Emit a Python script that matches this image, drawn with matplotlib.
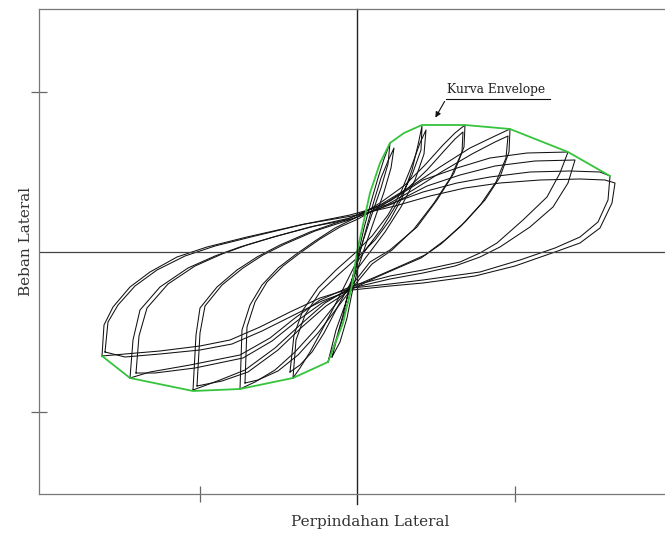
import matplotlib
matplotlib.use("Agg")
import matplotlib.pyplot as plt

# hysteresis cycles (displacement, load in arbitrary units)
# each list = reloading branch (neg peak -> pos peak) followed by unloading branch (pos peak -> neg peak)
c6a_x = [-25.5, -25.3, -24.4, -22.7, -20.7, -18.0, -15.0, -11.0, -5.7, -0.7, 3.3, 6.6, 10.0, 13.3, 17.3, 21.3, 24.3, 25.3,
         25.1, 24.1, 22.3, 19.8, 16.3, 12.3, 6.6, 3.3, -0.5, -3.7, -6.7, -9.7, -12.7, -15.7, -19.7, -23.2, -25.5]
c6a_y = [-10.4, -7.3, -5.5, -3.5, -2.0, -0.5, 0.5, 1.5, 2.7, 3.7, 4.8, 6.0, 6.9, 7.5, 8.0, 8.1, 8.0, 7.6,
         5.2, 3.0, 1.5, 0.4, -0.8, -2.0, -2.8, -3.2, -3.6, -4.6, -6.0, -7.5, -8.8, -9.4, -9.9, -10.2, -10.4]
c6b_x = [-25.2, -24.9, -23.9, -22.2, -20.0, -17.2, -14.2, -10.2, -5.2, -0.5, 3.8, 7.3, 10.8, 14.3, 18.3, 22.3, 24.8, 25.8,
         25.5, 24.3, 22.3, 19.8, 15.8, 11.8, 6.6, 3.3, -0.5, -3.5, -6.5, -9.5, -12.5, -15.7, -19.7, -23.2, -25.2]
c6b_y = [-10.0, -7.0, -5.3, -3.4, -1.8, -0.4, 0.6, 1.6, 2.8, 3.6, 4.6, 5.6, 6.4, 6.9, 7.2, 7.3, 7.2, 6.9,
         4.9, 2.4, 0.9, 0.0, -1.4, -2.4, -3.1, -3.4, -3.8, -4.9, -6.4, -7.9, -9.2, -9.8, -10.2, -10.5, -10.0]

c5a_x = [-22.7, -22.4, -21.7, -19.7, -16.9, -14.2, -11.7, -8.7, -4.7, -0.7, 3.3, 6.6, 10.0, 13.3, 17.0, 21.1,
         20.3, 19.0, 16.6, 14.0, 12.3, 10.3, 6.6, 3.3, -0.5, -3.7, -6.2, -8.7, -11.7, -16.7, -20.7, -22.7]
c5a_y = [-12.6, -8.8, -5.8, -3.5, -1.6, -0.4, 0.5, 1.4, 2.5, 3.4, 5.1, 7.2, 8.4, 9.4, 9.9, 10.0,
         7.9, 5.5, 3.2, 0.9, -0.1, -1.0, -1.8, -2.4, -3.4, -4.8, -6.6, -8.6, -10.3, -11.3, -12.0, -12.6]
c5b_x = [-22.1, -21.8, -21.0, -18.9, -16.2, -13.5, -11.0, -8.0, -4.2, -0.5, 3.5, 7.0, 10.3, 13.8, 17.8, 21.8,
         21.1, 19.6, 17.3, 14.3, 12.3, 9.8, 6.6, 3.3, -0.5, -3.5, -6.0, -8.5, -11.4, -16.2, -20.2, -22.1]
c5b_y = [-12.1, -8.4, -5.6, -3.2, -1.4, -0.2, 0.7, 1.6, 2.6, 3.3, 4.8, 6.6, 7.7, 8.6, 9.1, 9.2,
         6.9, 4.5, 2.5, 0.5, -0.5, -1.4, -2.1, -2.7, -3.6, -5.1, -6.9, -8.9, -10.6, -11.6, -12.1, -12.1]

c4a_x = [-16.4, -16.1, -15.7, -14.0, -12.0, -10.0, -7.7, -4.7, -0.7, 2.3, 5.3, 8.3, 11.3, 13.8, 15.3,
         15.2, 14.3, 12.8, 10.8, 8.8, 6.8, 4.8, 2.3, -0.5, -3.2, -5.7, -8.2, -11.2, -13.7, -16.4]
c4a_y = [-13.8, -8.3, -5.6, -3.5, -1.8, -0.5, 0.7, 2.0, 3.4, 4.7, 6.5, 8.5, 10.4, 11.6, 12.3,
         10.0, 7.5, 5.2, 3.0, 1.2, -0.3, -1.2, -2.3, -3.5, -5.1, -7.3, -9.6, -11.8, -12.8, -13.8]
c4b_x = [-16.0, -15.7, -15.2, -13.5, -11.4, -9.4, -7.2, -4.2, -0.5, 2.6, 5.6, 8.6, 11.5, 13.8, 15.1,
         14.9, 13.9, 12.4, 10.4, 8.4, 6.4, 4.3, 2.0, -0.5, -3.1, -5.5, -7.9, -10.9, -13.5, -16.0]
c4b_y = [-13.4, -8.1, -5.4, -3.3, -1.6, -0.3, 0.8, 2.1, 3.3, 4.5, 6.2, 8.1, 9.8, 11.0, 11.6,
         9.4, 7.0, 4.8, 2.6, 0.8, -0.6, -1.5, -2.5, -3.7, -5.4, -7.5, -9.8, -12.0, -12.9, -13.4]

c3a_x = [-11.7, -11.5, -10.7, -9.5, -7.9, -6.2, -4.2, -2.2, -0.2, 2.3, 4.8, 6.8, 8.6, 9.8, 10.8,
         10.7, 9.7, 8.0, 6.0, 3.3, 1.3, -0.5, -2.2, -4.2, -6.2, -8.2, -10.2, -11.7]
c3a_y = [-13.7, -7.8, -5.3, -3.3, -1.6, -0.3, 1.1, 2.4, 3.4, 4.9, 6.7, 8.7, 10.7, 11.9, 12.7,
         10.5, 7.9, 5.2, 2.5, 0.2, -1.0, -3.3, -5.3, -7.8, -10.0, -11.8, -13.0, -13.7]
c3b_x = [-11.2, -11.0, -10.2, -9.0, -7.4, -5.7, -3.7, -1.7, 0.1, 2.6, 5.0, 7.0, 8.7, 9.8, 10.6,
         10.5, 9.4, 7.7, 5.7, 3.5, 1.5, -0.4, -2.0, -3.9, -5.9, -7.9, -9.9, -11.2]
c3b_y = [-13.1, -7.5, -5.0, -3.0, -1.4, -0.1, 1.3, 2.5, 3.3, 4.7, 6.3, 8.2, 10.1, 11.3, 12.0,
         10.0, 7.5, 4.9, 2.3, 0.2, -1.2, -3.5, -5.6, -8.1, -10.3, -11.9, -12.8, -13.1]

c2a_x = [-6.4, -6.1, -5.2, -3.7, -1.9, 0.0, 1.8, 3.3, 4.5, 5.5, 6.1, 6.5,
         6.4, 5.5, 4.1, 2.5, 1.0, -0.2, -1.2, -2.2, -3.5, -4.7, -5.7, -6.4]
c2a_y = [-12.6, -8.8, -6.3, -4.0, -2.3, -0.6, 1.2, 3.2, 5.4, 8.2, 10.7, 12.6,
         10.2, 7.7, 5.0, 2.4, 0.4, -1.3, -3.3, -5.3, -7.8, -10.0, -11.6, -12.6]
c2b_x = [-6.7, -6.3, -5.4, -3.9, -2.1, -0.3, 1.5, 3.1, 4.4, 5.5, 6.3, 6.9,
         6.7, 5.8, 4.4, 2.8, 1.3, 0.1, -0.9, -2.0, -3.3, -4.5, -5.7, -6.7]
c2b_y = [-12.0, -8.3, -5.8, -3.6, -1.8, -0.2, 1.6, 3.7, 6.0, 8.7, 10.9, 12.2,
         9.8, 7.2, 4.5, 2.0, 0.0, -1.6, -3.6, -5.6, -8.1, -10.0, -11.3, -12.0]

c1a_x = [-2.9, -2.1, -1.2, -0.5, 0.1, 0.7, 1.4, 2.1, 2.7, 3.3,
         3.1, 2.4, 1.5, 0.6, -0.1, -0.8, -1.4, -2.1, -2.9]
c1a_y = [-11.0, -7.8, -5.3, -2.8, -0.3, 2.4, 5.0, 7.4, 9.3, 10.9,
         8.8, 6.4, 3.8, 1.1, -1.3, -3.8, -6.3, -8.8, -11.0]
c1b_x = [-2.5, -1.7, -0.9, -0.3, 0.3, 1.0, 1.7, 2.4, 3.1, 3.7,
         3.4, 2.7, 1.8, 0.9, 0.1, -0.5, -1.0, -1.7, -2.5]
c1b_y = [-10.5, -7.5, -5.0, -2.5, 0.0, 2.6, 5.1, 7.4, 9.1, 10.4,
         8.4, 6.0, 3.4, 0.8, -1.6, -4.1, -6.6, -9.0, -10.5]

# envelope curve (green)
env_x = [-25.5, -22.7, -16.4, -11.7, -6.4, -2.9, -1.4, -0.5, 0.0, 0.7, 1.3, 2.3, 3.3, 4.7, 6.5, 10.8, 15.3, 21.1, 25.3]
env_y = [-10.4, -12.6, -13.9, -13.7, -12.6, -11.0, -7.1, -3.3, 0.0, 3.2, 5.9, 8.9, 10.9, 11.9, 12.7, 12.7, 12.3, 10.0, 7.6]

cycles = [(c1a_x, c1a_y), (c1b_x, c1b_y), (c2a_x, c2a_y), (c2b_x, c2b_y),
          (c3a_x, c3a_y), (c3b_x, c3b_y), (c4a_x, c4a_y), (c4b_x, c4b_y),
          (c5a_x, c5a_y), (c5b_x, c5b_y), (c6a_x, c6a_y), (c6b_x, c6b_y)]

serif = "DejaVu Serif"

fig = plt.figure(figsize=(6.65, 5.33), dpi=100)
ax = fig.add_axes([39 / 665, 1 - 494 / 533, (677 - 39) / 665, (494 - 9) / 533])

for cx, cy in cycles:
    ax.plot(cx, cy, color="#111111", lw=0.75)
ax.plot(env_x, env_y, color="#35c43c", lw=1.3)

# zero lines
ax.axhline(0, color="#444444", lw=0.9)
ax.axvline(0, ymin=-0.02, ymax=1, color="#222222", lw=1.0, clip_on=False)

ax.set_xlim(-31.8, 32.0)
ax.set_ylim(-24.2, 24.3)
ax.set_xticks([-15.75, 15.75])
ax.set_yticks([-16, 16])
ax.set_xticklabels([])
ax.set_yticklabels([])
ax.tick_params(direction="inout", length=11, width=0.9, color="#666666")
for s in ax.spines.values():
    s.set_color("#777777")
    s.set_linewidth(0.9)

# annotation
ax.plot([8.9, 19.3], [15.3, 15.3], color="#111111", lw=0.8)
ax.annotate("", xy=(7.7, 13.2), xytext=(8.9, 15.3),
            arrowprops=dict(arrowstyle="-|>", color="#111111", lw=0.8, mutation_scale=8))
ax.text(9.0, 15.6, "Kurva Envelope", fontsize=8.8, family=serif, va="bottom", color="#222222")

fig.text(370 / 665, 1 - 522 / 533, "Perpindahan Lateral", fontsize=11, family=serif,
         ha="center", va="center", color="#333333")
fig.text(26 / 665, 1 - 241 / 533, "Beban Lateral", fontsize=11, family=serif,
         ha="center", va="center", rotation=90, color="#333333")

fig.savefig("out.png", dpi=100)
